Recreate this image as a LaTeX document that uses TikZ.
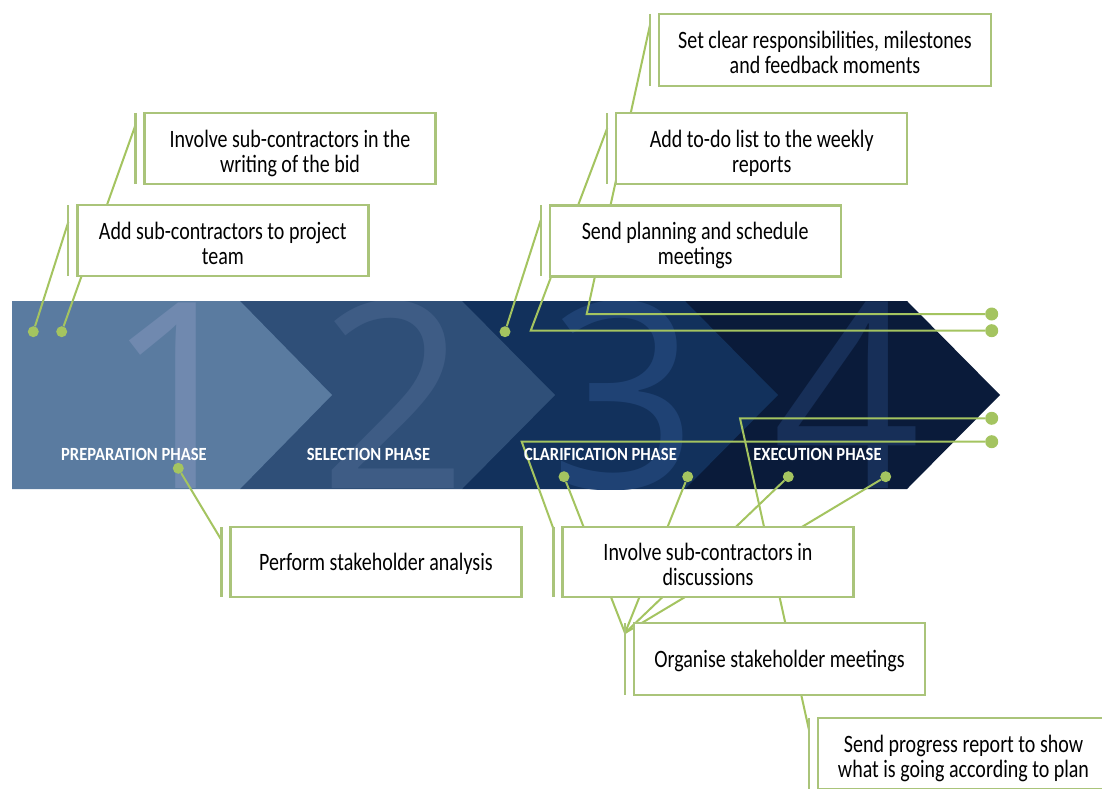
\documentclass[tikz,border=0pt]{standalone}
\usepackage{fontspec}
\setmainfont{Carlito}
\newfontfamily\boxfont[FakeStretch=0.8]{Carlito}
\newfontfamily\phasefont[FakeStretch=0.89]{Carlito}
\newfontfamily\digitfont{Open Sans}
\usepackage{tikz}
\usetikzlibrary{
  calc,
  backgrounds
}
\definecolor{leadgreen}{RGB}{164,196,96}
\definecolor{boxgreen}{RGB}{170,196,122}
\definecolor{segone}{RGB}{90,123,160}
\definecolor{segtwo}{RGB}{47,79,120}
\definecolor{segthree}{RGB}{18,49,92}
\definecolor{segfour}{RGB}{10,27,58}
\definecolor{digone}{RGB}{112,137,175}
\definecolor{digtwo}{RGB}{62,92,133}
\definecolor{digthree}{RGB}{31,66,116}
\definecolor{digfour}{RGB}{23,47,88}
\pgfdeclarelayer{band}
\pgfdeclarelayer{leads}
\pgfsetlayers{band,leads,main}
\tikzset{
  callout/.style={rectangle,draw=boxgreen,line width=2.4pt,fill=white,minimum width=291pt,minimum height=71pt,inner sep=0pt,outer sep=0pt,align=center,font=\boxfont\fontsize{25}{25}\selectfont,text height=52pt,text depth=5pt},
  oneline/.style={text height=22pt,text depth=5pt},
  accent/.style={draw=boxgreen,line width=2.2pt},
  leader/.style={draw=leadgreen,line width=2pt},
  dot/.style={circle,fill=leadgreen,inner sep=0pt,minimum size=11pt},
  bigdot/.style={dot,minimum size=13pt},
  phase/.style={text=white,font=\phasefont\bfseries\fontsize{18.6}{18.6}\selectfont,anchor=base,inner sep=0pt},
  digit/.style={font=\digitfont\fontsize{260}{260}\selectfont,anchor=base,inner sep=0pt}
}

\begin{document}
\begin{tikzpicture}[x=1pt,y=-1pt]
    \clip (0,0) rectangle (1102,789);

    % the phase arrow
    \begin{pgfonlayer}{band}
        \fill[white] (0,0) rectangle (1102,789);
        \fill[segfour] (685,301) -- (907,301) -- (1000,395) -- (907,489) -- (685,489) -- cycle;
        \fill[segthree] (462,301) -- (685,301) -- (778,395) -- (685,489) -- (462,489) -- cycle;
        \fill[segtwo] (240,301) -- (462,301) -- (555,395) -- (462,489) -- (240,489) -- cycle;
        \fill[segone] (12,301) -- (240,301) -- (332,395) -- (240,489) -- (12,489) -- cycle;
        \begin{scope}
            \clip (12,301) -- (907,301) -- (1000,395) -- (907,489) -- (12,489) -- cycle;
            \foreach \x/\n/\c in {180/1/digone,394/2/digtwo,624/3/digthree,847/4/digfour}
                \node[digit,text=\c] (num\n) at (\x,488) {\n};
        \end{scope}
    \end{pgfonlayer}
    \foreach \x/\name/\id in {134/PREPARATION PHASE/prep,368.5/SELECTION PHASE/sel,600.5/CLARIFICATION PHASE/clar,817.5/EXECUTION PHASE/exec}
        \node[phase] (ph\id) at (\x,460) {\name};

    % dots
    \node[dot] (dA) at (33.3,331.7) {};
    \node[dot] (dB) at (61.7,331.7) {};
    \node[dot] (dC) at (505,331.7) {};
    \node[dot] (dD) at (178.3,468.3) {};
    \node[dot] (cA) at (564,476.7) {};
    \node[dot] (cB) at (687.7,476.7) {};
    \node[dot] (xA) at (788.3,476.7) {};
    \node[dot] (xB) at (885.7,476.7) {};
    \foreach \y/\id in {314/rA,330.7/rB,418.3/rC,441.7/rD}
        \node[bigdot] (\id) at (991.7,\y) {};

    % callouts
    \node[callout] (b1) at (290,148.5) {Involve sub-contractors in the\\writing of the bid};
    \node[callout] (b2) at (222.8,240.5) {Add sub-contractors to project\\team};
    \node[callout,minimum width=332pt,minimum height=72pt] (b3) at (825,50) {Set clear responsibilities, milestones\\and feedback moments};
    \node[callout] (b4) at (761.7,148.7) {Add to-do list to the weekly\\reports};
    \node[callout] (b5) at (695.2,240.8) {Send planning and schedule\\meetings};
    \node[callout,oneline,minimum height=70pt] (b6) at (375.9,562) {Perform stakeholder analysis};
    \node[callout,minimum height=70pt] (b7) at (708,562) {Involve sub-contractors in\\discussions};
    \node[callout,oneline,minimum height=72pt] (b8) at (779.5,659) {Organise stakeholder meetings};
    \node[callout] (b9) at (963.5,753.5) {Send progress report to show\\what is going according to plan};
    \foreach \b in {b1,b2,b3,b4,b5,b6,b7,b8,b9}
        \draw[accent] ($(\b.north west)+(-9,0)$) -- ($(\b.south west)+(-9,0)$);

    \coordinate (a1) at ($(b1.north west)+(-9,12)$);
    \coordinate (a2) at ($(b2.north west)+(-9,17)$);
    \coordinate (a3) at ($(b3.north west)+(-9,11)$);
    \coordinate (a4) at ($(b4.north west)+(-9,15)$);
    \coordinate (a5) at ($(b5.north west)+(-9,15)$);
    \coordinate (a6) at ($(b6.north west)+(-9,13)$);
    \coordinate (a7) at ($(b7.north west)+(-9,2)$);
    \coordinate (a8) at ($(b8.north west)+(-9,10)$);
    \coordinate (a9) at ($(b9.north west)+(-9,12)$);
    \coordinate (k3) at (586.7,314);
    \coordinate (k4) at (530.7,330.7);
    \coordinate (k7) at (521.7,441.7);
    \coordinate (k9) at (740,418.3);

    \begin{pgfonlayer}{leads}
        \draw[leader] (a1) -- (dB);
        \draw[leader] (a2) -- (dA);
        \draw[leader] (a3) -- (k3) -- (rA);
        \draw[leader] (a4) -- (k4) -- (rB);
        \draw[leader] (a5) -- (dC);
        \draw[leader] (a6) -- (dD);
        \draw[leader] (a7) -- (k7) -- (rD);
        \foreach \d in {cA,cB,xA,xB}
            \draw[leader] (a8) -- (\d);
        \draw[leader] (a9) -- (k9) -- (rC);
    \end{pgfonlayer}
\end{tikzpicture}
\end{document}
